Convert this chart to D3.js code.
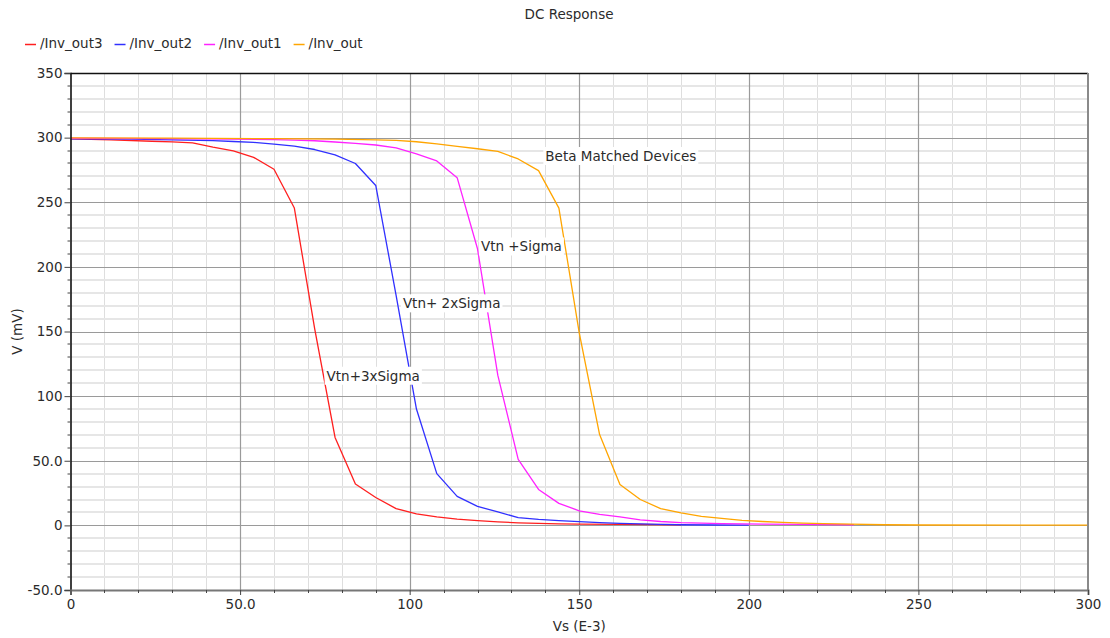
<!DOCTYPE html>
<html>
<head>
<meta charset="utf-8">
<script src="https://cdn.jsdelivr.net/npm/d3@7"></script>
<style>
  html, body { margin: 0; padding: 0; background: #ffffff; }
  svg { display: block; }
  text { font-family: "DejaVu Sans", Verdana, sans-serif; fill: #2b2b2b; }
</style>
</head>
<body>
<div id="chart"></div>
<script>
// DC sweep of the inverter outputs: Vs in E-3, output voltage in mV.
const invOut3Vs = [0, 12, 24, 30, 36, 42, 48, 54, 60, 66, 72, 78, 84, 90, 96, 102, 108, 114, 120, 126, 132, 138, 144, 150, 162, 180];
const invOut3V  = [299, 298.2, 297.2, 296.7, 296, 292.6, 289.8, 284.7, 275.5, 245.5, 152, 68, 32, 21.6, 13, 8.9, 6.5, 4.8, 3.6, 2.7, 2.0, 1.5, 1.2, 1.0, 0.7, 0.5];

const invOut2Vs = [0, 18, 30, 42, 48, 54, 60, 66, 72, 78, 84, 90, 96, 102, 108, 114, 120, 126, 132, 138, 144, 150, 156, 162, 168, 174, 180, 190, 200];
const invOut2V  = [299, 298.8, 298.3, 297.7, 297, 296.3, 295, 293.4, 290.8, 286.7, 280, 263, 178, 90, 40, 22.4, 14.7, 10.4, 6.0, 4.6, 3.6, 2.9, 2.1, 1.5, 1.1, 0.8, 0.5, 0.3, 0.2];

const invOut1Vs = [0, 24, 48, 60, 66, 72, 78, 84, 90, 96, 102, 108, 114, 120, 126, 132, 138, 144, 150, 156, 162, 168, 174, 180, 192, 204, 216, 231];
const invOut1V  = [299.5, 299.2, 298.8, 298.4, 298, 297.6, 296.6, 295.5, 294.3, 292, 287.5, 282, 269, 214, 116, 51, 27.8, 17, 11.3, 8.5, 6.5, 4.3, 3.0, 2.2, 1.4, 1.0, 0.7, 0.5];

const invOutVs  = [0, 30, 60, 78, 90, 96, 102, 108, 114, 120, 126, 132, 138, 144, 150, 156, 162, 168, 174, 180, 186, 192, 198, 204, 210, 216, 222, 230, 240, 250, 300];
const invOutV   = [299.8, 299.6, 299.2, 298.8, 298.3, 297.8, 296.8, 295.2, 293.3, 291.4, 289.3, 283.5, 274.5, 245.5, 149, 70.3, 31.7, 20, 13, 9.7, 7, 5.4, 3.9, 3, 2.3, 1.8, 1.3, 0.9, 0.5, 0.3, 0.2];

const seriesNames  = ["/Inv_out3", "/Inv_out2", "/Inv_out1", "/Inv_out"];
const seriesColors = ["#ff1f1f", "#3030ff", "#ff22ff", "#ffa500"];

const xTickValues = [0, 50, 100, 150, 200, 250, 300];
const xTickLabels = ["0", "50.0", "100", "150", "200", "250", "300"];
const yTickValues = [-50, 0, 50, 100, 150, 200, 250, 300, 350];
const yTickLabels = ["-50.0", "0", "50.0", "100", "150", "200", "250", "300", "350"];

const noteTexts = ["Beta Matched Devices", "Vtn +Sigma", "Vtn+ 2xSigma", "Vtn+3xSigma"];
const noteVs    = [140, 121, 98, 75.5];
const noteV     = [285, 215, 171, 115];

const W = 1110, H = 638;
const plot = { left: 70.5, right: 1088, top: 73, bottom: 590 };

const x = d3.scaleLinear().domain([0, 300]).range([plot.left, plot.right]);
const y = d3.scaleLinear().domain([-50, 350]).range([plot.bottom, plot.top]);

const svg = d3.select("#chart").append("svg")
  .attr("width", W).attr("height", H);

// minor grid
const minorX = d3.range(0, 301, 10).filter(v => v % 50 !== 0);
const minorY = d3.range(-50, 351, 10).filter(v => v % 50 !== 0);
const grid = svg.append("g");
grid.selectAll(".gvx").data(minorX).join("line")
  .attr("x1", d => Math.round(x(d)) + 0.5).attr("x2", d => Math.round(x(d)) + 0.5)
  .attr("y1", plot.top).attr("y2", plot.bottom)
  .attr("stroke", "#dedede").attr("stroke-width", 1);
grid.selectAll(".gvy").data(minorY).join("line")
  .attr("x1", plot.left).attr("x2", plot.right)
  .attr("y1", d => Math.round(y(d))).attr("y2", d => Math.round(y(d)))
  .attr("stroke", "#e6e6e6").attr("stroke-width", 2);

// major grid
grid.selectAll(".gmx").data(xTickValues.slice(1, -1)).join("line")
  .attr("x1", d => Math.round(x(d)) + 0.5).attr("x2", d => Math.round(x(d)) + 0.5)
  .attr("y1", plot.top).attr("y2", plot.bottom)
  .attr("stroke", "#9a9a9a").attr("stroke-width", 1.2);
grid.selectAll(".gmy").data(yTickValues.slice(1, -1)).join("line")
  .attr("x1", plot.left).attr("x2", plot.right)
  .attr("y1", d => Math.round(y(d)) + 0.5).attr("y2", d => Math.round(y(d)) + 0.5)
  .attr("stroke", "#9a9a9a").attr("stroke-width", 1.2);

// curves
const line = d3.line().x(d => x(d[0])).y(d => y(d[1]));
const seriesData = [
  d3.zip(invOut3Vs, invOut3V),
  d3.zip(invOut2Vs, invOut2V),
  d3.zip(invOut1Vs, invOut1V),
  d3.zip(invOutVs, invOutV)
];
svg.append("g").selectAll("path").data(seriesData).join("path")
  .attr("d", line)
  .attr("fill", "none")
  .attr("stroke", (d, i) => seriesColors[i])
  .attr("stroke-width", 1.3)
  .attr("stroke-linejoin", "round");

// annotations on white boxes
const notes = svg.append("g");
noteTexts.forEach((t, i) => {
  const g = notes.append("g");
  const tx = g.append("text")
    .attr("x", x(noteVs[i])).attr("y", y(noteV[i]))
    .attr("font-size", 13.5)
    .attr("dominant-baseline", "middle")
    .text(t);
  const bb = tx.node().getBBox();
  g.insert("rect", "text")
    .attr("x", bb.x - 2).attr("y", bb.y - 1)
    .attr("width", bb.width + 4).attr("height", bb.height + 2)
    .attr("fill", "#ffffff");
});

// frame
svg.append("line").attr("x1", plot.left).attr("x2", plot.right)
  .attr("y1", plot.top + 0.5).attr("y2", plot.top + 0.5)
  .attr("stroke", "#111").attr("stroke-width", 1.3);
svg.append("line").attr("x1", plot.right).attr("x2", plot.right)
  .attr("y1", plot.top).attr("y2", plot.bottom)
  .attr("stroke", "#8a8a8a").attr("stroke-width", 2);

// y axis
const yAxis = d3.axisLeft(y)
  .tickValues(yTickValues)
  .tickFormat((d, i) => yTickLabels[i])
  .tickSize(6).tickPadding(2);
const gy = svg.append("g").attr("transform", `translate(${plot.left},0)`).call(yAxis);
gy.select(".domain").attr("stroke", "#111").attr("stroke-width", 1.6);
gy.selectAll(".tick line").attr("stroke", "#444");
gy.selectAll("text").attr("font-size", 13.5).attr("fill", "#2b2b2b")
  .attr("font-family", "DejaVu Sans, Verdana, sans-serif");
gy.append("g").selectAll("line").data(minorY).join("line")
  .attr("x1", -3).attr("x2", 0)
  .attr("y1", d => Math.round(y(d))).attr("y2", d => Math.round(y(d)))
  .attr("stroke", "#444");

// x axis
const xAxis = d3.axisBottom(x)
  .tickValues(xTickValues)
  .tickFormat((d, i) => xTickLabels[i])
  .tickSize(5).tickPadding(4);
const gx = svg.append("g").attr("transform", `translate(0,${plot.bottom})`).call(xAxis);
gx.select(".domain").attr("stroke", "#777").attr("stroke-width", 2);
gx.selectAll(".tick line").attr("stroke", "#444");
gx.selectAll("text").attr("font-size", 13.5).attr("fill", "#2b2b2b")
  .attr("font-family", "DejaVu Sans, Verdana, sans-serif");
gx.append("g").selectAll("line").data(minorX).join("line")
  .attr("x1", d => Math.round(x(d)) + 0.5).attr("x2", d => Math.round(x(d)) + 0.5)
  .attr("y1", 0).attr("y2", 3)
  .attr("stroke", "#444");

// axis titles
svg.append("text")
  .attr("x", (plot.left + plot.right) / 2).attr("y", 627)
  .attr("text-anchor", "middle").attr("dominant-baseline", "middle")
  .attr("font-size", 13.5).text("Vs (E-3)");
svg.append("text")
  .attr("transform", `translate(18,${(plot.top + plot.bottom) / 2}) rotate(-90)`)
  .attr("text-anchor", "middle").attr("dominant-baseline", "middle")
  .attr("font-size", 13.5).text("V (mV)");

// title
svg.append("text")
  .attr("x", 569).attr("y", 15)
  .attr("text-anchor", "middle").attr("dominant-baseline", "middle")
  .attr("font-size", 13.5).text("DC Response");

// legend
const legend = svg.append("g").attr("transform", "translate(25,44)");
let lx = 0;
seriesNames.forEach((name, i) => {
  const item = legend.append("g").attr("transform", `translate(${lx},0)`);
  item.append("line").attr("x1", 0).attr("x2", 11).attr("y1", 0.5).attr("y2", 0.5)
    .attr("stroke", seriesColors[i]).attr("stroke-width", 1.5);
  const t = item.append("text").attr("x", 15).attr("y", 0)
    .attr("dominant-baseline", "middle").attr("font-size", 13.5).text(name);
  lx += 15 + t.node().getComputedTextLength() + 12;
});
</script>
</body>
</html>
